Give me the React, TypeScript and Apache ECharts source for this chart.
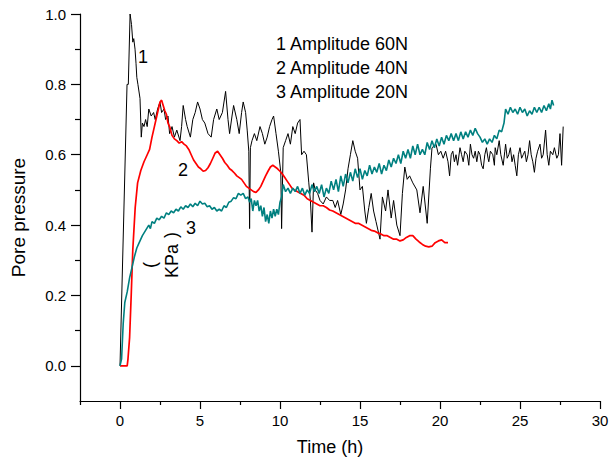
import React, { useEffect, useRef } from "react";
import * as echarts from "echarts";

// Time (h) vs pore pressure (kPa)
const amp60N: [number, number][] = [
  [0, 0], [0.44, 0.8], [0.52, 0.8], [0.63, 1.0], [0.72, 0.97], [0.8, 0.92], [0.86, 0.93], [0.94, 0.9],
  [1.0, 0.86], [1.05, 0.82], [1.12, 0.8], [1.25, 0.76], [1.33, 0.65], [1.4, 0.69], [1.5, 0.68],
  [1.6, 0.7], [1.7, 0.68], [1.8, 0.73], [1.95, 0.71], [2.1, 0.72], [2.2, 0.7], [2.35, 0.73],
  [2.5, 0.75], [2.6, 0.72], [2.75, 0.73], [2.85, 0.7], [3.0, 0.71], [3.1, 0.66], [3.25, 0.68],
  [3.4, 0.65], [3.55, 0.67], [3.75, 0.64], [3.85, 0.68], [3.95, 0.74], [4.1, 0.7], [4.2, 0.68],
  [4.4, 0.65], [4.55, 0.7], [4.7, 0.72], [4.85, 0.75], [5.0, 0.73], [5.15, 0.7], [5.3, 0.69],
  [5.5, 0.66], [5.7, 0.65], [5.85, 0.7], [6.05, 0.73], [6.2, 0.7], [6.4, 0.72], [6.6, 0.78],
  [6.75, 0.7], [6.85, 0.66], [7.0, 0.71], [7.1, 0.74], [7.3, 0.7], [7.45, 0.66], [7.6, 0.72],
  [7.7, 0.75], [7.85, 0.72], [7.95, 0.67], [8.05, 0.61], [8.1, 0.39], [8.15, 0.62], [8.25, 0.64],
  [8.4, 0.66], [8.55, 0.64], [8.75, 0.68], [8.9, 0.66], [9.05, 0.63], [9.2, 0.65], [9.35, 0.68],
  [9.5, 0.7], [9.6, 0.71], [9.75, 0.66], [9.9, 0.61], [10.05, 0.55], [10.1, 0.39], [10.2, 0.62],
  [10.35, 0.64], [10.5, 0.66], [10.65, 0.63], [10.8, 0.68], [10.95, 0.66], [11.1, 0.69],
  [11.25, 0.7], [11.35, 0.6], [11.5, 0.61], [11.65, 0.6], [11.8, 0.52], [11.9, 0.47], [12.0, 0.38],
  [12.1, 0.52], [12.2, 0.5], [12.35, 0.49], [12.5, 0.47], [12.7, 0.46], [12.9, 0.48], [13.1, 0.47],
  [13.3, 0.47], [13.45, 0.45], [13.6, 0.47], [13.8, 0.43], [13.95, 0.46], [14.1, 0.5], [14.25, 0.56],
  [14.4, 0.6], [14.55, 0.64], [14.7, 0.61], [14.85, 0.59], [15.0, 0.5], [15.15, 0.51], [15.3, 0.44],
  [15.4, 0.405], [15.55, 0.45], [15.7, 0.49], [15.85, 0.44], [16.0, 0.41], [16.25, 0.36],
  [16.4, 0.48], [16.6, 0.44], [16.75, 0.5], [16.95, 0.42], [17.1, 0.47], [17.3, 0.4], [17.5, 0.37],
  [17.65, 0.49], [17.8, 0.565], [17.95, 0.53], [18.1, 0.54], [18.3, 0.52], [18.55, 0.5],
  [18.75, 0.435], [18.95, 0.51], [19.2, 0.405], [19.4, 0.56], [19.5, 0.62], [19.75, 0.63],
  [19.9, 0.6], [20.05, 0.61], [20.2, 0.59], [20.35, 0.61], [20.5, 0.58], [20.6, 0.54], [20.7, 0.6],
  [20.8, 0.61], [20.9, 0.58], [21.0, 0.6], [21.1, 0.57], [21.25, 0.62], [21.35, 0.6], [21.45, 0.58],
  [21.55, 0.61], [21.7, 0.6], [21.8, 0.57], [21.9, 0.63], [22.0, 0.6], [22.1, 0.59], [22.2, 0.61],
  [22.3, 0.58], [22.4, 0.61], [22.5, 0.6], [22.6, 0.57], [22.7, 0.56], [22.8, 0.6], [22.9, 0.62],
  [23.0, 0.59], [23.05, 0.58], [23.15, 0.61], [23.3, 0.6], [23.4, 0.57], [23.45, 0.62], [23.55, 0.6],
  [23.7, 0.64], [23.8, 0.6], [23.95, 0.57], [24.05, 0.61], [24.1, 0.63], [24.2, 0.59], [24.3, 0.6],
  [24.4, 0.62], [24.5, 0.58], [24.6, 0.6], [24.7, 0.57], [24.8, 0.54], [24.9, 0.6], [25.0, 0.62],
  [25.1, 0.59], [25.2, 0.6], [25.3, 0.61], [25.4, 0.58], [25.5, 0.6], [25.6, 0.64], [25.7, 0.6],
  [25.8, 0.58], [25.9, 0.55], [26.0, 0.59], [26.1, 0.61], [26.25, 0.63], [26.35, 0.59], [26.45, 0.6],
  [26.6, 0.67], [26.7, 0.6], [26.8, 0.57], [26.9, 0.61], [27.05, 0.6], [27.15, 0.62], [27.3, 0.59],
  [27.4, 0.6], [27.5, 0.66], [27.6, 0.57], [27.7, 0.68],
];

const amp40N: [number, number][] = [
  [0, 0], [0.45, 0], [0.5, 0.02], [0.6, 0.08], [0.7, 0.2], [0.8, 0.33], [0.95, 0.45], [1.1, 0.52],
  [1.3, 0.555], [1.5, 0.58], [1.7, 0.6], [1.85, 0.615], [2.0, 0.65], [2.15, 0.68], [2.3, 0.71],
  [2.4, 0.73], [2.5, 0.75], [2.6, 0.755], [2.7, 0.74], [2.8, 0.725], [2.9, 0.715], [3.0, 0.69],
  [3.1, 0.68], [3.25, 0.655], [3.4, 0.645], [3.55, 0.64], [3.7, 0.633], [3.85, 0.637], [4.0, 0.63],
  [4.15, 0.625], [4.3, 0.615], [4.45, 0.6], [4.6, 0.585], [4.75, 0.575], [4.9, 0.565], [5.05, 0.56],
  [5.2, 0.553], [5.35, 0.555], [5.5, 0.563], [5.65, 0.575], [5.8, 0.59], [5.95, 0.605], [6.1, 0.61],
  [6.25, 0.6], [6.4, 0.59], [6.55, 0.578], [6.7, 0.57], [6.85, 0.56], [7.0, 0.555], [7.15, 0.548],
  [7.3, 0.54], [7.45, 0.535], [7.6, 0.53], [7.75, 0.52], [7.9, 0.51], [8.05, 0.505], [8.2, 0.5],
  [8.35, 0.495], [8.5, 0.493], [8.65, 0.5], [8.8, 0.51], [8.95, 0.525], [9.1, 0.54], [9.25, 0.553],
  [9.4, 0.565], [9.55, 0.57], [9.7, 0.565], [9.85, 0.56], [10.0, 0.553], [10.15, 0.545],
  [10.3, 0.535], [10.45, 0.525], [10.6, 0.515], [10.75, 0.505], [10.9, 0.5], [11.1, 0.495],
  [11.3, 0.49], [11.5, 0.485], [11.7, 0.475], [11.9, 0.47], [12.1, 0.465], [12.3, 0.46],
  [12.5, 0.455], [12.7, 0.455], [12.9, 0.45], [13.1, 0.443], [13.3, 0.44], [13.5, 0.435],
  [13.7, 0.43], [13.9, 0.425], [14.1, 0.42], [14.3, 0.415], [14.5, 0.41], [14.7, 0.405],
  [14.9, 0.405], [15.1, 0.4], [15.3, 0.395], [15.5, 0.39], [15.7, 0.385], [15.9, 0.383],
  [16.1, 0.378], [16.3, 0.375], [16.5, 0.37], [16.7, 0.37], [16.9, 0.365], [17.1, 0.36],
  [17.3, 0.36], [17.5, 0.355], [17.7, 0.358], [17.9, 0.365], [18.1, 0.37], [18.3, 0.37],
  [18.5, 0.36], [18.7, 0.352], [18.9, 0.345], [19.1, 0.34], [19.3, 0.338], [19.5, 0.34],
  [19.7, 0.35], [19.9, 0.355], [20.1, 0.358], [20.3, 0.35], [20.5, 0.35],
];

const amp20N: [number, number][] = [
  [0, 0], [0.1, 0.02], [0.2, 0.12], [0.3, 0.18], [0.45, 0.21], [0.6, 0.25], [0.75, 0.28], [0.9, 0.31],
  [1.05, 0.335], [1.2, 0.35], [1.4, 0.37], [1.6, 0.385], [1.8, 0.4], [1.9, 0.39], [2.0, 0.41],
  [2.15, 0.405], [2.3, 0.42], [2.45, 0.415], [2.6, 0.425], [2.75, 0.42], [2.9, 0.435], [3.05, 0.43],
  [3.2, 0.44], [3.35, 0.435], [3.5, 0.445], [3.65, 0.44], [3.8, 0.452], [3.95, 0.445], [4.1, 0.455],
  [4.25, 0.45], [4.4, 0.46], [4.55, 0.452], [4.7, 0.462], [4.85, 0.455], [5.0, 0.468], [5.15, 0.46],
  [5.3, 0.462], [5.45, 0.452], [5.6, 0.455], [5.75, 0.445], [5.9, 0.45], [6.05, 0.44], [6.2, 0.445],
  [6.35, 0.44], [6.5, 0.455], [6.65, 0.45], [6.8, 0.465], [6.95, 0.468], [7.1, 0.478], [7.25, 0.475],
  [7.4, 0.49], [7.55, 0.485], [7.7, 0.49], [7.85, 0.475], [8.0, 0.48], [8.1, 0.465], [8.2, 0.475],
  [8.3, 0.44], [8.4, 0.47], [8.5, 0.455], [8.6, 0.47], [8.7, 0.44], [8.8, 0.455], [8.9, 0.425],
  [9.0, 0.45], [9.1, 0.41], [9.2, 0.43], [9.3, 0.405], [9.4, 0.44], [9.5, 0.42], [9.6, 0.445],
  [9.7, 0.425], [9.8, 0.445], [9.9, 0.43], [10.0, 0.465], [10.1, 0.48], [10.2, 0.515], [10.35, 0.495],
  [10.5, 0.505], [10.65, 0.49], [10.8, 0.505], [10.95, 0.495], [11.1, 0.51], [11.25, 0.49],
  [11.4, 0.505], [11.55, 0.485], [11.7, 0.5], [11.85, 0.49], [12.0, 0.515], [12.15, 0.495],
  [12.3, 0.51], [12.45, 0.49], [12.6, 0.515], [12.75, 0.48], [12.9, 0.505], [13.05, 0.49],
  [13.2, 0.525], [13.35, 0.5], [13.5, 0.53], [13.65, 0.495], [13.8, 0.54], [13.95, 0.51],
  [14.1, 0.545], [14.25, 0.52], [14.4, 0.55], [14.55, 0.525], [14.7, 0.56], [14.85, 0.535],
  [15.0, 0.56], [15.15, 0.53], [15.3, 0.555], [15.45, 0.54], [15.6, 0.57], [15.75, 0.545],
  [15.9, 0.565], [16.05, 0.55], [16.2, 0.575], [16.35, 0.545], [16.5, 0.57], [16.65, 0.555],
  [16.8, 0.585], [16.95, 0.565], [17.1, 0.59], [17.25, 0.575], [17.4, 0.6], [17.55, 0.575],
  [17.7, 0.61], [17.85, 0.59], [18.0, 0.615], [18.15, 0.59], [18.3, 0.625], [18.45, 0.6],
  [18.6, 0.63], [18.75, 0.6], [18.9, 0.615], [19.05, 0.6], [19.2, 0.635], [19.35, 0.615],
  [19.5, 0.64], [19.65, 0.62], [19.8, 0.645], [19.95, 0.625], [20.1, 0.65], [20.25, 0.63],
  [20.4, 0.655], [20.55, 0.64], [20.7, 0.66], [20.85, 0.64], [21.0, 0.66], [21.15, 0.64],
  [21.3, 0.665], [21.45, 0.645], [21.6, 0.665], [21.75, 0.65], [21.9, 0.67], [22.05, 0.655],
  [22.2, 0.675], [22.35, 0.66], [22.5, 0.65], [22.65, 0.635], [22.8, 0.645], [22.95, 0.63],
  [23.1, 0.645], [23.25, 0.635], [23.4, 0.655], [23.55, 0.645], [23.7, 0.67], [23.85, 0.665],
  [24.0, 0.69], [24.1, 0.73], [24.25, 0.715], [24.4, 0.735], [24.55, 0.72], [24.7, 0.73],
  [24.85, 0.715], [25.0, 0.735], [25.15, 0.72], [25.3, 0.73], [25.45, 0.71], [25.6, 0.725],
  [25.75, 0.715], [25.9, 0.735], [26.05, 0.72], [26.2, 0.735], [26.35, 0.72], [26.5, 0.74],
  [26.65, 0.725], [26.8, 0.745], [26.9, 0.73], [27.0, 0.755], [27.1, 0.74],
];

const xMajorTicks = [0, 5, 10, 15, 20, 25, 30];
const xMinorTicks = [-2.5, 2.5, 7.5, 12.5, 17.5, 22.5, 27.5];
const yMajorTicks = [0, 0.2, 0.4, 0.6, 0.8, 1.0];
const yMinorTicks = [0.1, 0.3, 0.5, 0.7, 0.9];
const legendLines = ["1 Amplitude 60N", "2 Amplitude 40N", "3 Amplitude 20N"];
const curveLabels = ["1", "2", "3"];

const FONT = "'Liberation Sans', Arial, sans-serif";

export default function App() {
  const ref = useRef<HTMLDivElement>(null);
  useEffect(() => {
    if (!ref.current) return;
    const chart = echarts.init(ref.current, undefined, { renderer: "svg" });
    const axisCommon = {
      type: "value" as const,
      splitLine: { show: false },
    };
    chart.setOption({
      animation: false,
      backgroundColor: "#fff",
      textStyle: { fontFamily: FONT },
      grid: { left: 80, top: 14, width: 520, height: 387, containLabel: false },
      xAxis: [
        {
          ...axisCommon,
          min: -2.5,
          max: 30,
          interval: 2.5,
          position: "bottom",
          axisLine: { show: true, onZero: false, lineStyle: { color: "#000", width: 1.2 } },
          axisTick: { show: true, customValues: xMajorTicks, length: 8, lineStyle: { color: "#000", width: 1.2 } },
          axisLabel: { customValues: xMajorTicks, color: "#000", fontSize: 15, margin: 12, fontFamily: FONT },
          name: "Time (h)",
          nameLocation: "middle",
          nameGap: 37,
          nameTextStyle: { color: "#000", fontSize: 18, fontFamily: FONT, padding: [0, 20, 0, 0] },
        },
        {
          ...axisCommon,
          min: -2.5,
          max: 30,
          interval: 2.5,
          position: "bottom",
          axisLine: { show: false, onZero: false },
          axisTick: { show: true, customValues: xMinorTicks, length: 4, lineStyle: { color: "#000", width: 1.2 } },
          axisLabel: { show: false },
        },
      ],
      yAxis: [
        {
          ...axisCommon,
          min: -0.1,
          max: 1.0,
          interval: 0.1,
          position: "left",
          axisLine: { show: true, onZero: false, lineStyle: { color: "#000", width: 1.2 } },
          axisTick: { show: true, customValues: yMajorTicks, length: 9, lineStyle: { color: "#000", width: 1.2 } },
          axisLabel: {
            customValues: yMajorTicks,
            color: "#000",
            fontSize: 15,
            margin: 14,
            fontFamily: FONT,
            formatter: (v: number) => v.toFixed(1),
          },
          name: "Pore pressure",
          nameLocation: "middle",
          nameGap: 52,
          nameTextStyle: { color: "#000", fontSize: 19, fontFamily: FONT, padding: [0, 20, 0, 0] },
        },
        {
          ...axisCommon,
          min: -0.1,
          max: 1.0,
          interval: 0.1,
          position: "left",
          axisLine: { show: false, onZero: false },
          axisTick: { show: true, customValues: yMinorTicks, length: 5, lineStyle: { color: "#000", width: 1.2 } },
          axisLabel: { show: false },
        },
      ],
      series: [
        {
          type: "line",
          data: amp60N,
          showSymbol: false,
          symbol: "none",
          lineStyle: { color: "#000000", width: 1 },
          z: 2,
        },
        {
          type: "line",
          data: amp40N,
          showSymbol: false,
          symbol: "none",
          lineStyle: { color: "#ff0000", width: 1.7 },
          z: 3,
        },
        {
          type: "line",
          data: amp20N,
          showSymbol: false,
          symbol: "none",
          lineStyle: { color: "#008080", width: 1.6 },
          z: 4,
        },
      ],
      graphic: [
        ...legendLines.map((t, i) => ({
          type: "text",
          x: 276,
          y: 44 + i * 24,
          style: { text: t, font: `18px ${FONT}`, fill: "#000", verticalAlign: "middle", align: "left" },
        })),
        {
          type: "text", x: 143, y: 57,
          style: { text: curveLabels[0], font: `18px ${FONT}`, fill: "#000", align: "center", verticalAlign: "middle" },
        },
        {
          type: "text", x: 183, y: 170,
          style: { text: curveLabels[1], font: `18px ${FONT}`, fill: "#000", align: "center", verticalAlign: "middle" },
        },
        {
          type: "text", x: 191, y: 228,
          style: { text: curveLabels[2], font: `18px ${FONT}`, fill: "#000", align: "center", verticalAlign: "middle" },
        },
        {
          type: "text", x: 172, y: 261, rotation: Math.PI / 2,
          style: { text: "KPa", font: `18px ${FONT}`, fill: "#000", align: "center", verticalAlign: "middle" },
        },
        {
          type: "text", x: 171, y: 235, rotation: Math.PI / 2,
          style: { text: ")", font: `18px ${FONT}`, fill: "#000", align: "center", verticalAlign: "middle" },
        },
        {
          type: "text", x: 150, y: 265, rotation: Math.PI / 2,
          style: { text: "(", font: `18px ${FONT}`, fill: "#000", align: "center", verticalAlign: "middle" },
        },
      ],
    });
    return () => chart.dispose();
  }, []);
  return (
    <div
      ref={ref}
      style={{ position: "fixed", left: 0, top: 0, width: 613, height: 466, background: "#fff" }}
    />
  );
}
